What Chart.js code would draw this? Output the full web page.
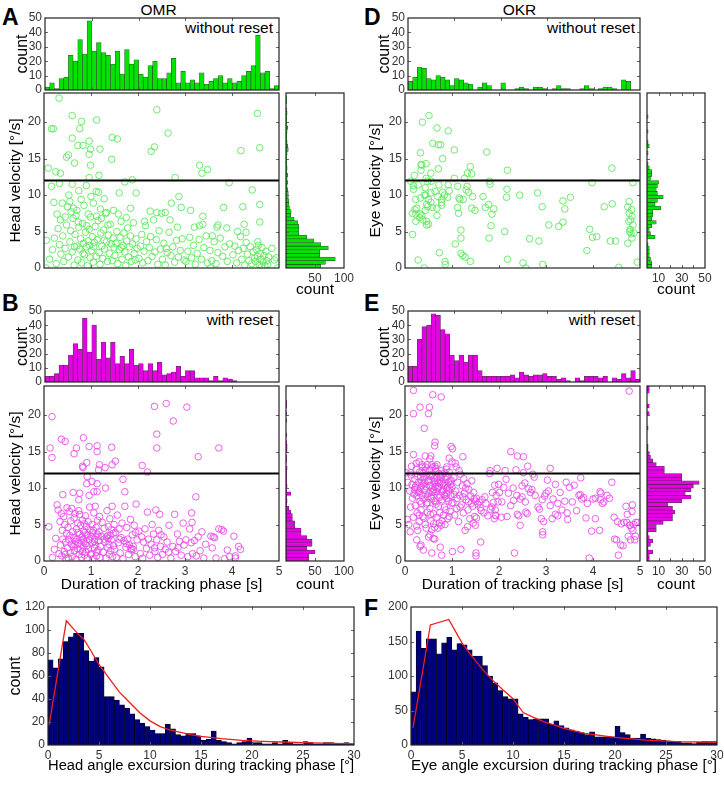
<!DOCTYPE html>
<html><head><meta charset="utf-8">
<script src="https://cdn.jsdelivr.net/npm/chart.js@4.4.1/dist/chart.umd.min.js"></script>
<style>
html,body{margin:0;padding:0;background:#fff;}
#root{position:relative;width:724px;height:785px;overflow:hidden;font-family:'Liberation Sans',Arial,Helvetica,sans-serif;}
canvas{position:absolute;}
.t{position:absolute;line-height:1;white-space:nowrap;color:#000;}
.L{font-size:23px;font-weight:bold;}
.h{font-size:15.5px;}
</style></head><body><div id="root">
<div class="t L" style="left:2px;top:6px">A</div>
<div class="t h" style="left:158.5px;top:2px;transform:translateX(-50%)">OMR</div>
<div class="t h" style="right:451px;top:20px">without reset</div>
<div class="t L" style="left:364px;top:6px">D</div>
<div class="t h" style="left:519.5px;top:2px;transform:translateX(-50%)">OKR</div>
<div class="t h" style="right:89px;top:20px">without reset</div>
<div class="t L" style="left:2px;top:292px">B</div>
<div class="t h" style="right:451px;top:312px">with reset</div>
<div class="t L" style="left:364px;top:292px">E</div>
<div class="t h" style="right:89px;top:312px">with reset</div>
<div class="t L" style="left:2px;top:597px">C</div>
<div class="t L" style="left:364px;top:597px">F</div>
</div>
<script>
// ---------------- DATA ----------------
const durBinWidth = 0.1;      // duration histogram bins [s], 0..5
const velBinWidth = 0.5;      // velocity histogram bins [deg/s], 0..24
const excBinWidth = 0.5;      // excursion histogram bins [deg], 0..30
const thresholdVel = 12;

const omrNoResetHist = [2,5,1,8,9,24,20,35,25,48,27,33,26,24,18,27,11,28,18,21,11,9,17,20,8,8,12,22,5,13,5,7,5,12,4,6,8,10,5,8,5,6,10,13,17,38,12,13,1,3];
const omrResetHist   = [4,4,6,12,12,19,27,23,45,21,40,16,28,17,28,13,18,13,23,12,13,8,13,8,14,5,6,7,11,4,8,8,3,3,3,1,4,1,3,2,1,0,0,0,0,0,0,0,0,0];
const okrNoResetHist = [6,9,16,15,8,7,10,9,7,3,8,7,5,4,0,2,5,3,0,0,5,0,0,1,2,1,0,2,2,1,0,1,3,1,1,0,0,1,3,1,0,1,2,2,1,0,7,6,0,0];
const okrResetHist   = [11,11,30,39,40,48,47,37,34,19,15,19,14,19,19,8,4,4,4,4,4,4,5,3,7,5,4,5,5,6,4,4,2,3,1,0,3,1,4,4,4,3,4,0,3,2,6,3,8,2];

const omrNoResetSide = [60,68,85,58,58,73,60,48,36,22,22,22,20,14,8,9,6,5,5,4,4,3,2,3,2,3,1,2,1,1,1,2,4,3,2,1,1,2,3,1,1,1,2,1,0,1,1,0];
const omrResetSide   = [39,39,50,36,45,45,36,26,26,15,15,11,11,8,5,1,2,1,8,1,2,1,1,1,1,2,0,1,1,0,2,2,1,0,1,0,0,0,1,0,1,0,1,1,0,0,0,0];
const okrNoResetSide = [4,4,3,2,2,2,1,0,7,3,2,4,8,4,5,5,12,7,9,14,9,8,9,10,3,4,4,2,1,0,0,1,0,2,1,0,0,1,0,0,0,1,0,0,0,0,0,0];
const okrResetSide   = [2,2,5,1,3,5,2,1,8,8,14,22,22,24,22,18,30,38,33,38,40,45,30,30,15,15,8,5,3,2,1,1,0,0,0,0,1,0,0,0,2,0,2,0,0,0,2,2];

const omrExcursion = [74,67,75,90,94,97,97,82,73,76,68,42,42,39,35,32,27,22,19,16,13,10,10,18,14,9,8,10,10,8,4,5,12,4,3,2,1,2,3,6,2,2,1,1,2,1,4,2,1,1,3,2,1,1,2,2,1,1,2,1];
const okrExcursion = [77,165,140,154,154,132,148,156,138,147,145,138,129,129,115,100,90,79,70,67,67,45,40,37,38,38,38,30,35,28,25,22,20,18,15,19,12,12,12,12,27,18,15,10,10,16,10,9,8,7,6,5,5,3,3,2,4,5,5,5];
const omrFitX = [0.1,1.8,2.5,3,3.5,4,5,6,7,8,9,10,11,12,13,14,15,17,19,21,23,25,27,30];
const omrFitY = [17,108,101,96,92,85,70,58,46,37,28,21,16,13,11,9,7.5,5.5,4,3.2,2.6,2.1,1.6,1.0];
const okrFitX = [0.2,1.9,3.7,5,6,7,8,9,10,11,12,13,14,15,17,20,23,26,30];
const okrFitY = [25,174,182,148,128,110,94,80,67,47,40,34,29,24,17,11,7,5,4];

// scatter: [duration s, velocity deg/s]
const omrNoResetPts = [
[0.32,23.3],[0.16,19.1],[0.2,19.1],[0.6,20.9],[0.8,20.1],[1.12,20.3],[0.76,19.1],[0.6,17.8],[0.96,17.4],[0.72,16.8],[0.83,16.8],[0.99,16.3],[1.19,16.3],[0.52,15.5],[0.48,15.2],[0.96,15.6],[0.65,14.4],[0.99,14.1],[0.09,13.7],[0.25,13.2],[0.35,13.0],[1.45,17.9],[1.56,17.7],[1.44,14.9],[1.17,12.7],[0.96,12.4],[1.88,12.1],[2.4,21.7],[2.64,18.5],[2.35,16.6],[2.28,16.0],[2.79,12.4],[3.31,14.1],[3.36,13.0],[3.48,13.5],[4.19,16.1],[4.59,16.5],[4.54,21.2],
[3.94,11.7],[0.16,11.2],[0.33,11.6],[0.6,11.5],[0.9,11.3],[1.11,10.5],[1.16,10.4],[0.74,10.6],[0.53,10.0],[0.21,9.0],[0.39,8.9],[0.55,9.1],[0.79,9.4],[1.0,9.8],[1.28,9.5],[1.6,10.3],[1.96,10.3],[1.72,11.8],[2.71,8.9],[2.87,9.8],[2.92,8.3],[3.12,7.9],[3.38,7.1],[3.82,8.3],[4.23,8.4],[4.43,10.7],[4.59,8.7],[4.59,6.3],[4.26,6.0],[3.7,5.9],[3.89,5.5],[2.58,7.6],[2.5,7.5],[2.14,6.4],[1.33,7.6],[1.48,7.9],[1.84,8.2],[3.31,5.8],[4.94,1.4],[0.04,0.0],[3.54,0.0],
[0.63,8.2],[0.7,7.9],[0.85,8.6],[0.5,8.4],[0.45,7.0],[1.05,8.9],[1.2,8.1],[0.94,7.4],
[0.05,3.8],[0.12,1.2],[0.18,2.5],[0.22,4.1],[0.26,0.6],[0.3,5.4],[0.33,3.2],[0.36,1.9],[0.4,4.4],[0.42,0.9],[0.45,2.7],[0.48,5.9],[0.35,6.6],[0.28,7.4],
[0.52,1.5],[0.55,3.6],[0.57,5.1],[0.6,2.2],[0.62,6.8],[0.64,0.4],[0.66,4.6],[0.68,7.2],[0.7,3.0],[0.72,1.1],[0.74,5.6],[0.76,2.6],[0.78,4.0],[0.8,0.7],[0.82,6.1],[0.84,3.4],[0.86,1.8],[0.88,4.9],[0.9,2.9],[0.92,0.3],[0.94,3.7],[0.96,5.3],[0.98,1.4],[0.99,7.0],[0.58,7.7],[0.65,2.9],[0.73,6.3],[0.83,2.0],[0.91,5.8],[0.97,3.1],
[1.01,2.4],[1.03,4.3],[1.05,0.8],[1.07,3.5],[1.09,5.7],[1.11,1.6],[1.13,3.9],[1.15,6.5],[1.17,2.1],[1.19,0.5],[1.21,4.8],[1.23,3.0],[1.25,1.3],[1.27,5.2],[1.29,2.6],[1.31,7.5],[1.33,3.6],[1.35,0.9],[1.37,4.5],[1.39,2.0],[1.41,6.0],[1.43,3.3],[1.45,1.0],[1.47,4.1],[1.49,2.8],[1.12,7.1],[1.22,6.8],[1.36,5.9],[1.06,2.9],[1.28,3.8],
[1.51,1.7],[1.53,3.4],[1.55,5.0],[1.57,0.6],[1.6,2.5],[1.62,4.2],[1.64,6.4],[1.66,1.2],[1.68,3.1],[1.7,4.8],[1.72,2.2],[1.74,0.3],[1.76,3.7],[1.78,5.5],[1.8,1.5],[1.82,2.9],[1.84,4.4],[1.86,0.9],[1.88,3.3],[1.9,6.2],[1.92,2.0],[1.94,1.1],[1.96,4.0],[1.98,2.7],[1.58,7.4],[1.75,6.9],[1.65,2.8],
[2.02,1.3],[2.05,3.0],[2.08,4.6],[2.1,0.7],[2.13,2.3],[2.16,5.8],[2.18,3.6],[2.21,1.0],[2.24,2.8],[2.27,4.3],[2.3,1.6],[2.33,6.6],[2.36,2.2],[2.39,3.9],[2.42,0.5],[2.45,5.1],[2.48,2.6],[2.26,7.8],[2.4,7.6],
[2.52,1.2],[2.55,3.4],[2.58,0.4],[2.62,2.1],[2.66,4.9],[2.7,1.7],[2.74,2.9],[2.78,0.8],[2.82,3.8],[2.86,1.5],[2.9,2.4],[2.94,4.0],[2.98,1.1],[2.68,6.6],[2.84,5.6],[2.6,2.7],
[3.02,0.9],[3.06,2.3],[3.1,4.2],[3.14,1.4],[3.18,3.1],[3.22,0.5],[3.26,2.0],[3.3,3.9],[3.35,1.2],[3.4,2.8],[3.45,4.4],[3.48,0.7],[3.2,5.6],[3.38,6.0],
[3.53,2.4],[3.57,1.0],[3.62,3.6],[3.66,0.6],[3.7,2.1],[3.75,4.1],[3.8,1.6],[3.85,2.9],[3.9,0.9],[3.95,3.3],[3.68,5.6],[3.58,4.4],
[4.02,1.8],[4.06,3.0],[4.1,0.7],[4.14,2.4],[4.18,4.3],[4.21,1.2],[4.24,2.7],[4.27,0.4],[4.3,3.5],[4.33,1.9],[4.36,1.0],[4.39,2.9],[4.42,0.6],[4.45,2.2],[4.48,1.4],[4.12,5.0],[4.3,4.9],
[4.5,0.9],[4.52,2.5],[4.54,1.6],[4.56,3.1],[4.58,0.5],[4.6,2.0],[4.62,1.2],[4.64,2.8],[4.66,0.8],[4.68,1.7],[4.7,0.3],[4.72,2.3],[4.74,1.0],[4.76,0.5],[4.78,1.5],[4.55,3.6],[4.63,0.2],[4.85,2.7],[4.9,1.1],[4.97,0.0]
];

const omrResetPts = [
[0.17,19.8],[0.13,15.5],[0.17,14.2],[0.37,16.7],[0.45,16.4],[0.69,15.5],[0.64,14.7],[0.84,16.9],[0.96,15.7],[1.13,15.8],[1.13,15.0],[1.44,15.6],[0.82,13.0],[0.83,12.8],[0.91,13.5],[1.18,13.2],[1.16,12.5],[1.3,12.8],[1.45,13.2],[1.52,13.7],[2.09,13.1],[2.2,12.2],[2.35,21.2],[2.6,21.6],[3.04,21.1],[2.75,19.2],[2.4,17.4],[2.4,15.5],[3.28,14.3],[3.72,15.5],
[0.92,11.6],[0.91,10.6],[1.02,10.9],[1.13,10.6],[0.96,9.0],[1.06,9.5],[1.13,9.5],[0.76,9.3],[0.74,8.4],[0.62,9.4],[0.4,9.1],[1.31,10.0],[1.68,11.2],[1.72,9.5],[3.23,8.8],[0.1,4.7],
[0.18,0.5],[0.22,1.6],[0.25,3.1],[0.28,7.7],[0.3,7.0],[0.32,1.0],[0.34,5.4],[0.35,2.2],[0.38,0.7],[0.39,4.2],[0.4,3.0],[0.42,6.1],[0.43,1.3],[0.44,5.0],[0.46,2.6],[0.47,0.3],[0.48,3.8],[0.49,7.3],[0.45,0.9],[0.37,6.5],
[0.5,1.8],[0.51,4.6],[0.52,0.4],[0.53,2.9],[0.54,6.8],[0.55,3.5],[0.56,1.1],[0.57,5.5],[0.58,2.3],[0.59,7.2],[0.6,0.6],[0.61,4.0],[0.62,2.0],[0.63,3.2],[0.64,5.9],[0.65,1.4],[0.66,6.5],[0.67,2.7],[0.68,0.2],[0.69,4.4],[0.7,3.0],[0.71,1.7],[0.72,5.2],[0.73,2.4],[0.74,6.9],[0.75,0.9],[0.76,3.7],[0.77,1.5],[0.78,4.9],[0.79,2.8],[0.8,0.5],[0.81,3.3],[0.82,5.6],[0.83,1.9],[0.84,4.1],[0.85,2.6],[0.86,0.8],[0.87,3.9],[0.88,6.2],[0.89,1.2],[0.9,4.7],[0.91,2.1],[0.92,0.4],[0.93,3.5],[0.94,5.4],[0.95,1.6],[0.96,2.9],[0.97,7.4],[0.98,4.3],[0.99,0.9],[0.86,5.1],[0.88,2.4],[0.84,3.0],[0.9,3.6],[0.82,1.3],[0.76,6.4],[0.72,3.9],[0.66,2.2],
[1.0,3.3],[1.01,1.0],[1.02,5.0],[1.03,2.5],[1.04,0.3],[1.05,4.2],[1.06,6.6],[1.07,1.8],[1.08,3.0],[1.09,7.5],[1.1,2.2],[1.11,4.6],[1.12,0.7],[1.13,3.7],[1.14,5.6],[1.15,1.5],[1.16,2.8],[1.17,4.0],[1.18,6.1],[1.19,0.5],[1.2,2.0],[1.22,3.4],[1.24,5.3],[1.26,1.2],[1.28,4.5],[1.3,2.6],[1.32,0.4],[1.33,3.3],[1.34,6.9],[1.35,1.9],[1.36,3.1],[1.37,4.7],[1.38,2.3],[1.39,0.9],[1.4,5.8],[1.41,3.5],[1.42,1.4],[1.43,2.9],[1.44,4.3],[1.45,7.5],[1.46,0.6],[1.47,3.8],[1.48,2.1],[1.49,5.0],[1.03,3.9],[1.07,2.7],[1.12,1.2],[1.15,3.4],[1.28,3.0],[1.36,3.5],
[1.5,1.6],[1.52,3.9],[1.54,0.5],[1.56,6.3],[1.58,2.5],[1.6,4.4],[1.62,1.1],[1.64,3.2],[1.66,5.2],[1.68,0.3],[1.7,2.8],[1.72,7.5],[1.74,1.9],[1.76,4.6],[1.78,3.0],[1.8,0.9],[1.82,2.2],[1.84,5.7],[1.86,1.5],[1.88,3.6],[1.9,2.0],[1.92,4.9],[1.94,0.6],[1.96,7.8],[1.98,2.9],[1.85,1.7],[1.9,1.6],[1.95,3.9],[1.6,3.0],[1.75,2.4],
[2.02,4.1],[2.05,1.0],[2.08,3.3],[2.1,0.4],[2.12,2.6],[2.15,4.4],[2.18,1.7],[2.2,6.7],[2.22,3.0],[2.25,0.8],[2.28,2.3],[2.3,5.0],[2.33,3.7],[2.36,1.3],[2.38,7.0],[2.4,2.9],[2.42,0.5],[2.44,4.2],[2.46,6.4],[2.48,2.0],[2.49,3.6],[2.35,1.8],
[2.52,0.9],[2.55,3.3],[2.58,1.6],[2.62,2.6],[2.66,4.9],[2.7,0.4],[2.74,2.0],[2.78,6.4],[2.8,1.3],[2.84,3.7],[2.88,2.7],[2.92,0.8],[2.96,5.2],[2.98,2.2],[2.65,1.2],[2.85,1.8],
[3.02,2.9],[3.06,0.6],[3.1,4.4],[3.13,2.5],[3.16,1.0],[3.2,2.8],[3.24,0.7],[3.28,3.3],[3.32,1.4],[3.36,4.0],[3.4,0.4],[3.44,2.3],[3.14,6.6],[3.15,5.3],
[3.55,3.4],[3.6,3.3],[3.63,3.2],[3.66,0.4],[3.72,4.4],[3.78,4.3],[3.82,4.1],[3.9,1.5],[3.95,0.6],[3.84,0.3],[3.58,1.8],
[4.07,0.7],[4.07,0.4],[4.04,3.4],[4.14,2.0],[4.18,1.6]
];

const okrNoResetPts = [
[0.51,20.9],[0.37,20.0],[0.68,19.2],[0.92,18.8],[0.59,17.1],[0.71,16.9],[0.76,16.9],[1.05,16.2],[0.33,15.8],[0.8,15.0],[1.74,15.9],[0.34,14.2],[0.36,14.1],[0.45,14.3],[1.39,13.9],[0.71,13.6],[0.34,13.4],[0.55,13.0],[1.33,13.0],[1.42,12.9],[1.27,12.3],[1.05,12.3],[0.2,12.7],[2.18,13.4],[4.4,13.7],[0.45,12.3],
[0.12,11.9],[0.18,11.3],[0.18,10.8],[0.28,11.4],[0.48,11.9],[0.56,11.9],[0.72,11.4],[0.92,11.4],[0.43,11.0],[0.41,10.0],[0.44,10.0],[0.55,10.3],[0.64,10.5],[0.8,10.4],[0.84,10.0],[0.94,10.6],[0.91,9.7],[0.7,9.8],[0.5,9.4],[0.33,9.6],[0.23,9.4],[0.55,9.0],[0.78,9.0],[0.78,9.4],[1.12,11.2],[1.3,10.7],[1.15,9.6],[1.17,9.4],[1.24,9.4],[1.35,10.4],[1.32,11.2],[1.44,9.8],[1.66,9.8],[1.8,11.9],[1.81,11.5],[2.17,10.8],[2.16,9.7],[2.44,10.0],[2.82,10.3],[3.36,9.2],[3.52,9.7],[3.98,11.7],[4.85,11.7],[4.77,9.1],[4.41,8.8],[4.24,8.4],[4.74,8.4],[3.4,8.1],[2.92,8.4],
[1.89,8.1],[1.85,7.4],[1.71,8.3],[1.78,8.7],[1.49,7.9],[1.42,8.2],[1.14,7.5],[1.12,8.3],[0.68,8.2],[0.78,8.6],[0.58,8.3],[0.46,8.7],[0.25,8.2],[0.21,8.0],[0.16,7.5],[0.23,7.4],[0.32,7.4],[0.43,7.9],[0.48,8.4],[0.36,7.2],[0.68,7.2],[0.46,6.4],[0.5,6.0],[0.23,6.4],[0.31,6.9],[0.38,6.6],[0.46,5.9],[0.16,4.6],
[1.19,5.2],[1.07,3.3],[1.19,4.1],[1.83,5.8],[1.79,4.1],[2.12,5.0],[2.65,4.0],[2.85,3.7],[3.06,5.9],[3.27,5.7],[3.36,6.3],[3.93,5.3],[3.99,4.2],[4.08,4.3],[4.37,3.7],[4.48,3.7],[4.74,3.4],[4.78,5.0],[4.79,5.3],[4.81,4.7],[4.83,4.1],[4.87,4.8],[4.85,5.9],[4.76,6.4],[4.8,6.6],[4.83,7.1],[4.77,7.5],[4.82,8.0],
[3.87,2.4],[1.19,2.0],[1.23,1.7],[1.28,1.5],[1.39,0.9],[0.73,2.1],[0.28,1.1],[0.41,0.0],[0.85,0.9],[0.86,0.5],[2.18,1.2],[2.51,0.7],[2.57,0.0],[2.93,0.5],[4.55,0.1],[4.94,0.8]
];

const okrResetPts = [
[0.18,23.4],[0.77,22.5],[0.59,22.8],[0.32,21.1],[0.52,21.1],[0.5,20.2],[0.18,20.2],[0.41,18.2],[4.77,23.3],[0.64,16.3],[0.63,15.8],[0.98,15.7],[1.01,15.4],[0.18,14.6],[0.43,14.4],[0.55,14.4],[0.53,14.0],[0.14,13.0],[0.24,13.4],[0.3,13.6],[0.36,13.2],[0.43,12.9],[0.47,13.2],[0.57,13.2],[0.64,13.0],[0.68,13.2],[0.94,14.1],[1.0,13.6],[1.07,13.4],[0.89,12.9],[1.23,14.3],[2.25,15.0],[2.39,14.4],[2.52,14.3],[2.61,13.0],[1.96,12.7],[1.81,12.4],[2.13,12.4],[2.36,12.5],[2.52,12.1],[2.72,11.9],[3.09,12.7],[3.74,11.4],[0.12,12.1],
[0.25,2.9],[0.32,2.0],[0.34,2.2],[0.39,1.5],[0.57,1.1],[0.27,4.2],[0.5,3.3],[0.53,3.6],[0.6,3.1],[0.63,3.0],[0.75,1.9],[0.78,0.8],[1.01,1.3],[1.19,1.6],[1.51,1.1],[1.51,0.7],[1.61,2.6],[2.33,1.1],[2.93,4.0],[2.93,3.6],[4.14,4.2],[3.97,4.1],[4.46,3.0],[4.5,2.9],[4.59,2.2],[4.64,2.1],[4.54,0.8],[4.89,2.9],[3.85,5.9],[4.05,5.8],[4.35,8.6],[4.23,8.1],[4.16,8.4],[4.84,7.7],[4.73,6.4],[4.83,6.8],[4.66,5.3],[4.72,5.3],[4.79,4.9],[4.87,5.0],[4.91,5.3],[4.82,4.5],[4.85,4.2],
[3.73,9.1],[4.15,9.5],[4.17,9.3],[3.76,8.5],[3.56,8.1],[3.4,8.2],[3.09,7.6],[3.2,10.5],[3.43,10.8],[3.03,11.1],[2.97,8.9],[3.0,9.3],[3.34,7.0],[3.2,6.4],[3.25,6.2],[2.95,5.4],[3.13,5.8],[3.46,5.7],[2.63,9.9],[2.67,9.4],[2.77,9.0],[2.92,8.4],[2.83,7.4],[2.86,7.1],[2.56,8.1],[2.49,8.8],[2.38,9.0],[2.2,9.3],[2.31,8.3],[2.01,9.4],[1.91,10.4],[1.99,10.5],[2.15,11.2],[2.49,10.3],[2.06,8.1],[1.88,8.0],[1.85,7.4],[1.92,7.0],[1.92,6.3],[1.93,6.2],[2.17,6.1],[2.39,6.4],[2.42,6.2],[2.57,6.7],[2.45,4.9],
[0.02,12.1],[0.05,5.7],[0.08,5.0],[0.1,9.6],[0.12,7.4],[0.13,11.8],[0.15,10.5],[0.16,8.6],[0.18,6.0],[0.19,9.2],[0.06,10.8],[0.11,4.0],
[0.2,9.8],[0.21,11.2],[0.22,7.6],[0.23,10.3],[0.24,12.6],[0.25,8.9],[0.26,6.6],[0.27,11.6],[0.28,9.4],[0.29,10.8],[0.3,5.4],[0.31,12.2],[0.32,8.2],[0.33,10.0],[0.34,7.0],[0.35,11.0],[0.36,9.0],[0.37,12.9],[0.38,6.1],[0.39,10.6],[0.4,8.5],[0.41,11.4],[0.42,9.7],[0.43,5.0],[0.44,12.4],[0.45,10.2],[0.46,7.8],[0.47,11.9],[0.48,8.8],[0.49,10.9],[0.25,4.8],[0.3,6.3],[0.35,7.9],[0.4,5.9],[0.45,4.5],[0.48,6.7],[0.22,10.1],[0.27,9.9],[0.33,11.5],[0.36,10.4],[0.42,10.8],[0.44,9.1],[0.47,8.0],[0.38,12.0],[0.31,9.5],
[0.5,11.1],[0.51,9.3],[0.52,12.5],[0.53,7.2],[0.54,10.4],[0.55,5.5],[0.56,11.7],[0.57,8.6],[0.58,10.0],[0.59,12.9],[0.6,6.5],[0.61,9.8],[0.62,11.3],[0.63,4.6],[0.64,10.7],[0.65,8.1],[0.66,12.3],[0.67,9.5],[0.68,6.0],[0.69,11.0],[0.7,10.2],[0.71,7.5],[0.72,12.0],[0.73,5.2],[0.74,10.6],[0.75,9.0],[0.76,11.5],[0.77,4.9],[0.78,10.9],[0.79,8.4],[0.8,11.9],[0.81,9.7],[0.82,6.3],[0.83,10.4],[0.84,12.1],[0.85,8.9],[0.86,11.2],[0.87,7.0],[0.88,10.0],[0.89,9.3],[0.9,11.6],[0.91,5.8],[0.92,10.8],[0.93,8.2],[0.94,12.2],[0.95,9.9],[0.96,6.8],[0.97,10.5],[0.98,11.1],[0.99,7.9],
[0.52,10.3],[0.55,8.8],[0.58,11.9],[0.6,9.4],[0.63,10.9],[0.66,7.8],[0.69,9.9],[0.72,10.8],[0.75,11.8],[0.78,9.5],[0.81,10.6],[0.84,7.4],[0.87,11.5],[0.9,10.1],[0.93,9.6],[0.96,11.0],[0.54,6.4],[0.57,4.3],[0.61,5.1],[0.65,12.7],[0.7,4.5],[0.74,6.6],[0.79,5.5],[0.85,5.0],[0.88,12.6],[0.94,6.1],[0.62,8.3],[0.68,11.4],[0.73,8.7],[0.77,12.4],[0.83,9.1],[0.89,8.6],[0.97,9.0],[0.53,11.6],[0.59,9.6],[0.64,10.2],[0.71,10.0],
[1.0,10.1],[1.02,8.0],[1.04,11.4],[1.06,6.3],[1.08,9.6],[1.1,7.2],[1.12,10.8],[1.14,5.4],[1.16,9.0],[1.18,11.9],[1.2,7.7],[1.22,10.3],[1.24,6.6],[1.26,9.3],[1.28,4.2],[1.3,8.4],[1.32,10.6],[1.34,7.0],[1.36,9.8],[1.38,5.8],[1.4,8.9],[1.42,11.0],[1.44,7.5],[1.46,9.4],[1.48,6.1],[1.5,8.2],[1.05,9.1],[1.11,8.6],[1.17,7.4],[1.23,8.8],[1.29,10.0],[1.35,8.1],[1.41,7.9],[1.47,8.5],[1.5,4.9],[1.52,5.9],[1.45,5.2],[1.33,4.7],[1.25,11.3],[1.15,12.4],[1.09,12.9],
[1.52,8.6],[1.55,7.8],[1.58,8.1],[1.6,7.3],[1.64,8.4],[1.68,6.6],[1.72,7.9],[1.76,6.2],[1.8,12.0],[1.82,7.1],[1.86,9.4],[1.9,5.8],[1.94,9.0],[1.98,8.1],[1.62,6.9],[1.7,8.8],
[2.05,6.0],[2.1,10.1],[2.25,7.6],[2.3,10.0],[2.45,8.5],[2.55,10.7],[2.6,6.5],[2.7,9.8],[2.75,11.5],[2.9,5.8],[3.05,9.6],[3.15,8.5],[3.25,7.9],[3.3,9.4],[3.45,6.6],[3.5,10.1],[3.6,10.4],[3.65,6.9],[3.7,9.0],[3.8,8.7],[3.88,7.9],[3.92,0.4],[4.0,8.5],[4.05,8.6],[4.2,7.9],[4.3,9.0],[4.4,10.8],[4.45,6.0],[4.52,5.4],[4.6,5.1],[4.7,7.5],[4.75,3.4],[4.78,4.9],[4.8,2.9],[4.9,3.4],[4.95,5.3]
];

// ---------------- HELPERS ----------------
const FONT = "'Liberation Sans', Arial, Helvetica, sans-serif";
Chart.defaults.font.family = FONT;
Chart.defaults.color = '#333';
const root = document.getElementById('root');

const GREEN = '#00e400', GREEN_EDGE = 'rgba(20,70,20,0.85)';
const MAG = '#e600e6', MAG_EDGE = 'rgba(80,10,80,0.85)';
const GREEN_PT = '#5fe85f', MAG_PT = '#e84ee8';

const framePlugin = {
  id: 'frame',
  afterDatasetsDraw(chart) {
    const {ctx, chartArea: a, scales} = chart;
    const xs = scales.x, ys = scales.y, tl = 3;
    ctx.save();
    ctx.strokeStyle = '#666'; ctx.lineWidth = 1;
    ctx.beginPath();
    xs.ticks.forEach(t => { const p = Math.round(xs.getPixelForValue(t.value)) + 0.5;
      if (p <= a.left + 1 || p >= a.right - 1) return;
      ctx.moveTo(p, a.bottom); ctx.lineTo(p, a.bottom - tl); ctx.moveTo(p, a.top); ctx.lineTo(p, a.top + tl); });
    ys.ticks.forEach(t => { const p = Math.round(ys.getPixelForValue(t.value)) + 0.5;
      if (p <= a.top + 1 || p >= a.bottom - 1) return;
      ctx.moveTo(a.left, p); ctx.lineTo(a.left + tl, p); ctx.moveTo(a.right, p); ctx.lineTo(a.right - tl, p); });
    ctx.stroke();
    ctx.strokeStyle = '#222'; ctx.lineWidth = 1.2;
    ctx.strokeRect(a.left, a.top, a.width, a.height);
    ctx.restore();
  }
};

function axis(min, max, step, o = {}) {
  return {
    type: 'linear', min, max, offset: false,
    grid: { display: false, drawTicks: false },
    border: { display: false },
    ticks: { stepSize: step, includeBounds: false, autoSkip: false, maxRotation: 0, minRotation: 0, padding: 3,
      font: { size: 12 }, color: '#333', display: o.labels !== false, callback: o.cb || (v => v) },
    title: o.title ? { display: true, text: o.title, color: '#000', font: { size: o.tsize || 15.5 }, padding: o.tpad } : { display: false }
  };
}

function mk(L, T, W, H, m, cfg) {
  const c = document.createElement('canvas');
  const cw = W + m.l + m.r, ch = H + m.t + m.b;
  c.width = cw; c.height = ch;
  c.style.left = (L - m.l) + 'px'; c.style.top = (T - m.t) + 'px';
  c.style.width = cw + 'px'; c.style.height = ch + 'px';
  root.appendChild(c);
  const o = cfg.options;
  o.responsive = false; o.animation = false; o.devicePixelRatio = 1;
  o.layout = { padding: { left: 0, top: m.t, right: m.r, bottom: 0 } };
  o.plugins = { legend: { display: false }, tooltip: { enabled: false } };
  o.scales.x.afterFit = s => { s.height = m.b; };
  o.scales.y.afterFit = s => { s.width = m.l; };
  cfg.plugins = [framePlugin];
  return new Chart(c, cfg);
}

const centers = (n, w) => Array.from({ length: n }, (_, i) => (i + 0.5) * w);

function topHist(L, T, W, H, vals, fill, edge, titleCenterX) {
  const cx = centers(vals.length, durBinWidth);
  const ml = L - (titleCenterX < 300 ? 0 : 361);
  return mk(L, T, W, H, { l: ml, t: 12, r: 8, b: 12 }, {
    type: 'bar',
    data: { datasets: [{ data: vals.map((v, i) => ({ x: cx[i], y: v })), backgroundColor: fill, borderColor: edge, borderWidth: 0.7, barPercentage: 1, categoryPercentage: 1 }] },
    options: { scales: {
      x: axis(0, 5, 1, { labels: false }),
      y: axis(0, 50, 10, { title: 'count', tsize: 16, tpad: { top: titleCenterX - (L - ml) - 9.6, bottom: 0 } })
    } }
  });
}

function scatter(L, T, W, H, pts, col, yTitle, xLabels, titleCenterX) {
  const ml = L - (titleCenterX < 300 ? 0 : 361);
  const xo = xLabels ? { title: 'Duration of tracking phase [s]', tpad: { top: 0, bottom: 3.2 } } : { labels: false };
  return mk(L, T, W, H, { l: ml, t: 12, r: 8, b: xLabels ? 36 : 12 }, {
    type: 'scatter',
    data: { datasets: [
      { type: 'line', data: [{ x: 0, y: thresholdVel }, { x: 5, y: thresholdVel }], borderColor: '#000', borderWidth: 1.8, pointRadius: 0, order: 0 },
      { data: pts.map(p => ({ x: p[0], y: p[1] })), pointRadius: 3.3, borderWidth: 0.9, borderColor: col, backgroundColor: 'rgba(0,0,0,0)', pointStyle: 'circle', order: 1 }
    ] },
    options: { scales: {
      x: axis(0, 5, 1, xo),
      y: axis(0, 24, 5, { title: yTitle, tpad: { top: titleCenterX - (L - ml) - 9.3, bottom: 0 } })
    } }
  });
}

function sideHist(L, T, W, H, vals, fill, edge, xmax, step, shown, titleBottomPad) {
  const cy = centers(vals.length, velBinWidth);
  return mk(L, T, W, H, { l: 4, t: 12, r: 14, b: 36 }, {
    type: 'bar',
    data: { datasets: [{ data: vals.map((v, i) => ({ x: v, y: cy[i] })), backgroundColor: fill, borderColor: edge, borderWidth: 0.7, barPercentage: 1, categoryPercentage: 1 }] },
    options: { indexAxis: 'y', scales: {
      x: axis(0, xmax, step, { cb: v => shown.includes(v) ? v : '', title: 'count', tpad: { top: 0, bottom: titleBottomPad } }),
      y: axis(0, 24, 5, { labels: false })
    } }
  });
}

function excursion(L, T, W, H, vals, fx, fy, ymax, ystep, xTitle, yTitle) {
  const cx = centers(vals.length, excBinWidth);
  const ml = L - (L < 300 ? 0 : 361);
  const yo = yTitle ? { title: yTitle, tsize: 16, tpad: { top: 16 - 9.6, bottom: 0 } } : {};
  return mk(L, T, W, H, { l: ml, t: 12, r: 10, b: 38 }, {
    type: 'bar',
    data: { datasets: [
      { type: 'line', data: fx.map((x, i) => ({ x, y: fy[i] })), borderColor: '#ee1c1c', borderWidth: 1.3, pointRadius: 0, tension: 0, order: 0 },
      { data: vals.map((v, i) => ({ x: cx[i], y: v })), backgroundColor: '#00007c', borderColor: '#000', borderWidth: 0.6, barPercentage: 1, categoryPercentage: 1, order: 1 }
    ] },
    options: { scales: {
      x: axis(0, 30, 5, { title: xTitle, tpad: { top: 0, bottom: 7.7 } }),
      y: axis(0, ymax, ystep, yo)
    } }
  });
}

// ---------------- CHARTS ----------------
// Column 1 (OMR)
topHist(45, 18, 234, 72, omrNoResetHist, GREEN, GREEN_EDGE, 22.5);
scatter(44, 93, 235, 175, omrNoResetPts, GREEN_PT, 'Head velocity [°/s]', false, 16);
sideHist(286, 93, 58, 175, omrNoResetSide, GREEN, GREEN_EDGE, 100, 50, [50, 100], 5);
topHist(45, 311, 234, 71, omrResetHist, MAG, MAG_EDGE, 22.5);
scatter(44, 386, 235, 175, omrResetPts, MAG_PT, 'Head velocity [°/s]', true, 16);
sideHist(286, 386, 58, 175, omrResetSide, MAG, MAG_EDGE, 100, 50, [50, 100], 3.2);
excursion(48, 607, 306, 138, omrExcursion, omrFitX, omrFitY, 120, 20, 'Head angle excursion during tracking phase [°]', 'count');
// Column 2 (OKR)
topHist(408, 18, 232, 72, okrNoResetHist, GREEN, GREEN_EDGE, 384.5);
scatter(405, 93, 235, 175, okrNoResetPts, GREEN_PT, 'Eye velocity [°/s]', false, 376);
sideHist(647, 93, 58, 175, okrNoResetSide, GREEN, GREEN_EDGE, 50, 10, [10, 30, 50], 5);
topHist(408, 311, 232, 71, okrResetHist, MAG, MAG_EDGE, 384.5);
scatter(405, 386, 235, 175, okrResetPts, MAG_PT, 'Eye velocity [°/s]', true, 376);
sideHist(647, 386, 58, 175, okrResetSide, MAG, MAG_EDGE, 50, 10, [10, 30, 50], 3.2);
excursion(411, 607, 306, 138, okrExcursion, okrFitX, okrFitY, 200, 50, 'Eye angle excursion during tracking phase [°]', null);
</script>
</body></html>
